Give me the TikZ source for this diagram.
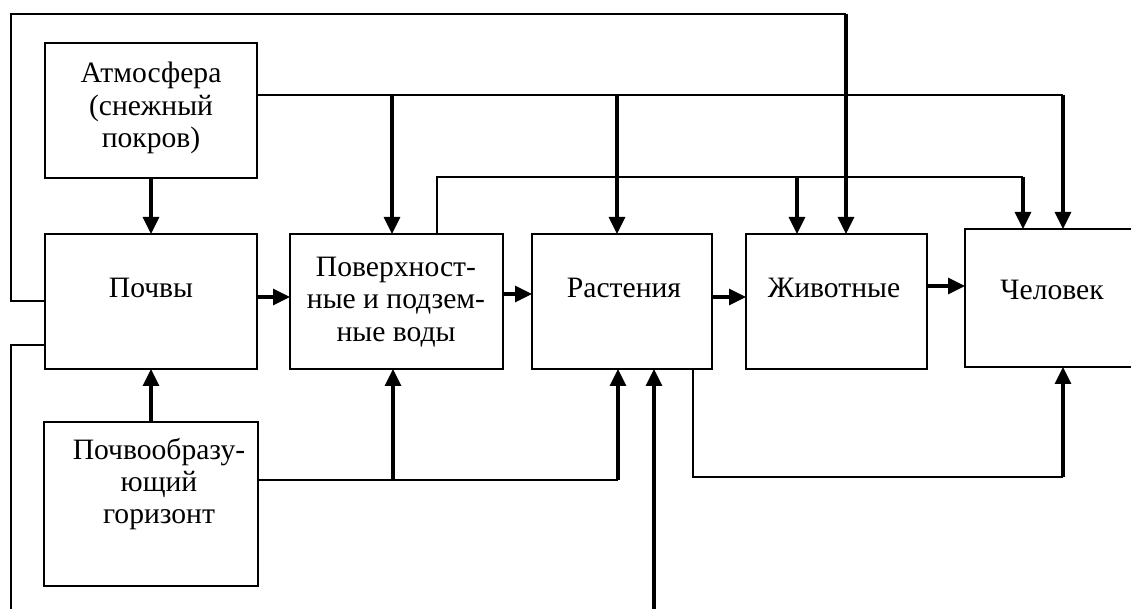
\documentclass[tikz,border=0pt]{standalone}
\usepackage{fontspec}
\setmainfont{Liberation Serif}
\usetikzlibrary{arrows.meta}

\begin{document}
\begin{tikzpicture}[x=0.5pt,y=-0.5pt,
  box/.style={draw=black,line width=1pt,inner sep=0pt,outer sep=0pt},
  txt/.style={align=center,inner sep=0pt,font=\fontsize{14.8}{16.2}\selectfont},
  link/.style={black,line width=0.9pt},
  arr/.style={black,line width=1.6pt,-{Triangle[length=8.5pt,width=8pt]}}]
\useasboundingbox (0,0) rectangle (1131,609);
\node [box,minimum width=106pt,minimum height=67.5pt] (atm) at (151,110.5) {};
\node [box,minimum width=106pt,minimum height=67.5pt] (soil) at (151,301.5) {};
\node [box,minimum width=106.5pt,minimum height=67.5pt] (water) at (396.5,301.5) {};
\node [box,minimum width=90pt,minimum height=67.5pt] (plants) at (622,301.5) {};
\node [box,minimum width=90.5pt,minimum height=67.5pt] (animals) at (836.5,301.5) {};
\node [box,minimum width=87.5pt,minimum height=69pt] (human) at (1052.5,298) {};
\node [box,minimum width=107pt,minimum height=82pt] (rock) at (151,504) {};
\node [txt] (atm-t) at (151,108) {Атмосфера\\(снежный\\покров)};
\node [txt] (soil-t) at (151,288) {Почвы};
\node [txt] (water-t) at (396,302) {Поверхност-\\ные и подзем-\\ные воды};
\node [txt] (plants-t) at (624,288) {Растения};
\node [txt] (animals-t) at (834,288) {Животные};
\node [txt] (human-t) at (1052,290) {Человек};
\node [txt] (rock-t) at (159,484) {Почвообразу-\\ющий\\горизонт};
\coordinate (topR) at (846,14);
\coordinate (aw) at (392,95);
\coordinate (ap) at (617,95);
\coordinate (ah) at (1063,95);
\coordinate (wl) at (437,177);
\coordinate (wa) at (797,177);
\coordinate (wh) at (1023,177);
\coordinate (rw) at (393,480);
\coordinate (rp) at (618,480);
\coordinate (ph1) at (693,477);
\coordinate (ph2) at (1063,477);
\coordinate (lend) at (11,620);
\coordinate (pend) at (654,620);
\draw [link] (soil.west |- 0,301) -- (11,301) |- (topR);
\draw [arr] (topR) -- (topR |- animals.north);
\draw [link] (soil.west |- 0,345) -- (11,345) -- (lend);
\draw [arr] (atm) -- (soil);
\draw [link] (atm.east |- 0,95) -- (ah);
\draw [arr] (aw) -- (aw |- water.north);
\draw [arr] (ap) -- (ap |- plants.north);
\draw [arr] (ah) -- (ah |- human.north);
\draw [link] (wl |- water.north) -- (wl) -- (wh);
\draw [arr] (wa) -- (wa |- animals.north);
\draw [arr] (wh) -- (wh |- human.north);
\draw [arr] (soil.east |- 0,297) -- (water.west |- 0,297);
\draw [arr] (water.east |- 0,294) -- (plants.west |- 0,294);
\draw [arr] (plants.east |- 0,297) -- (animals.west |- 0,297);
\draw [arr] (animals.east |- 0,286) -- (human.west |- 0,286);
\draw [arr] (rock) -- (soil);
\draw [link] (rock.east |- 0,480) -- (rp);
\draw [arr] (rw) -- (rw |- water.south);
\draw [arr] (rp) -- (rp |- plants.south);
\draw [arr] (pend) -- (pend |- plants.south);
\draw [link] (ph1 |- plants.south) -- (ph1) -- (ph2);
\draw [arr] (ph2) -- (ph2 |- human.south);
\end{tikzpicture}
\end{document}
